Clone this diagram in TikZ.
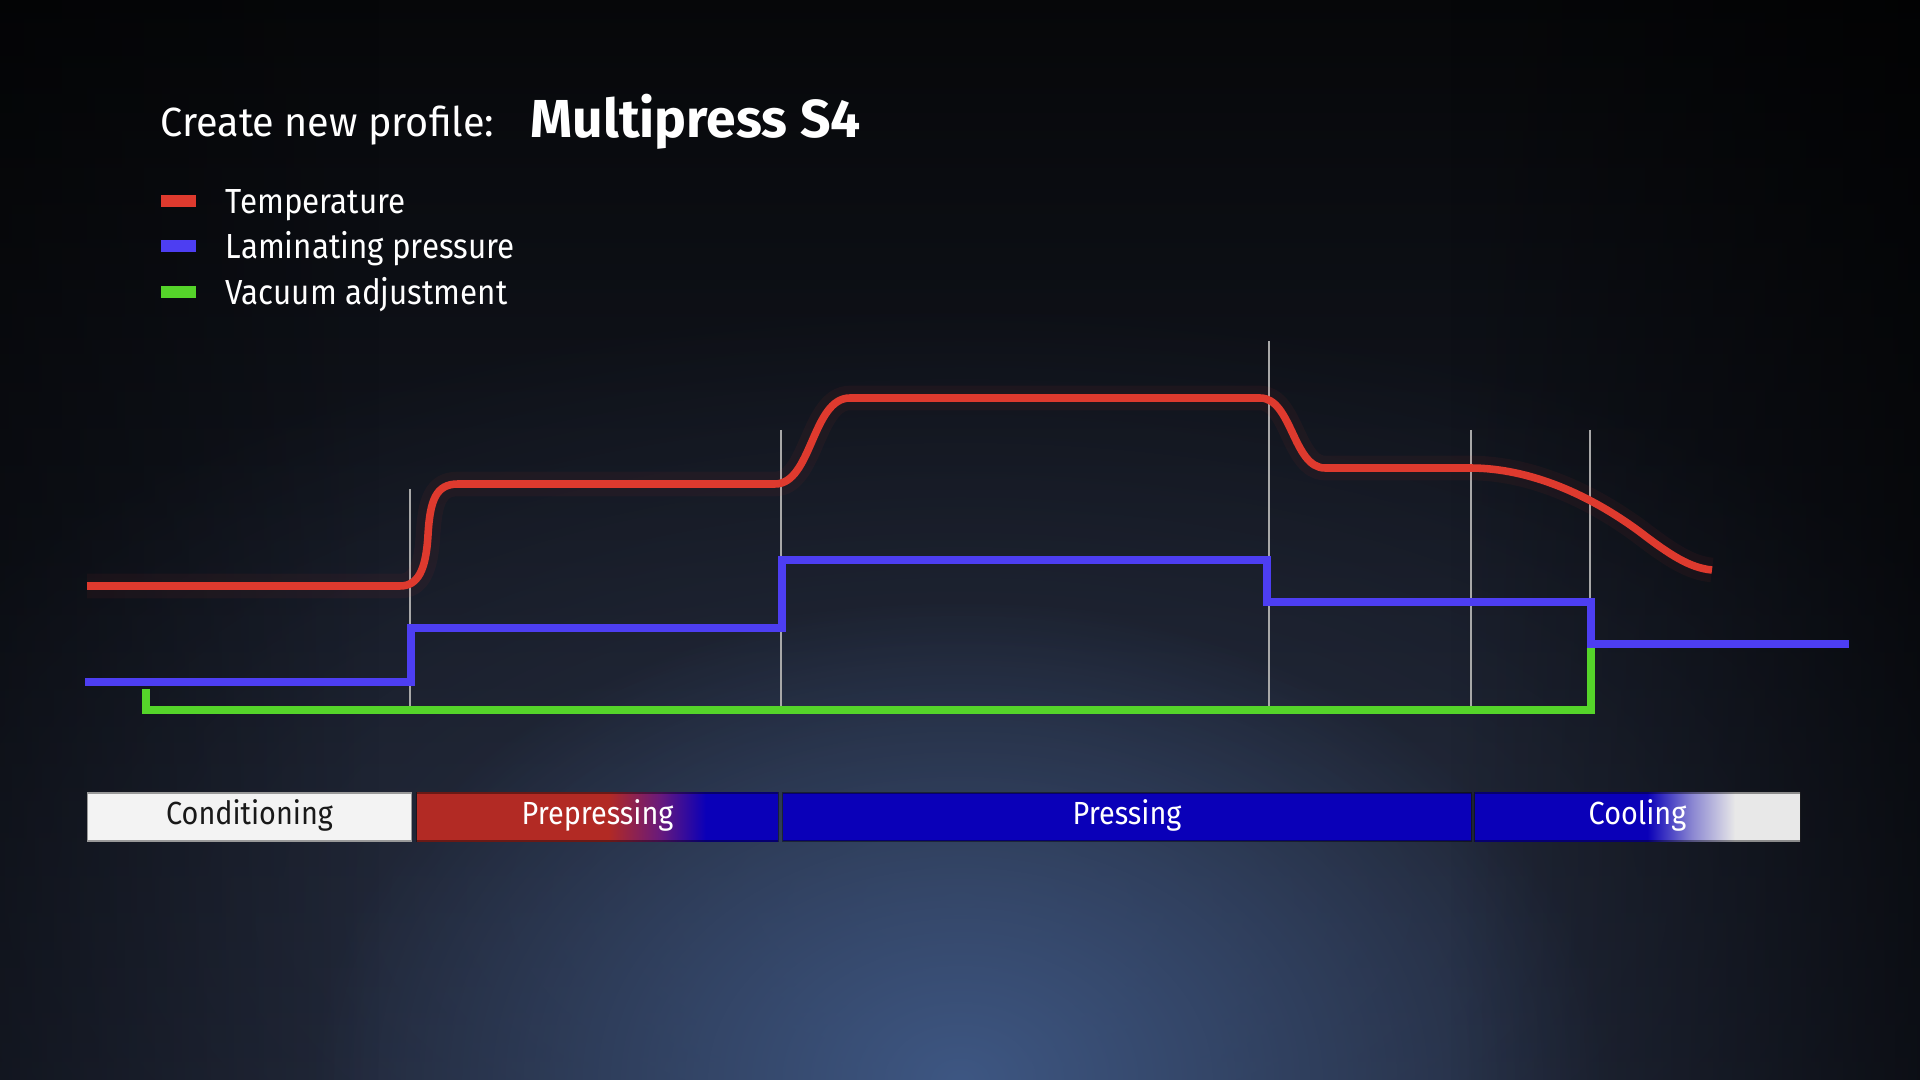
\documentclass[tikz,border=0pt]{standalone}
\usepackage{fontspec}
\setmainfont{Fira Sans}[FakeStretch=0.9]
\newfontfamily\titlefont{Fira Sans}[FakeStretch=0.97]
\newfontfamily\machinefont{Fira Sans}
\usetikzlibrary{fadings}
\definecolor{bgtop}{HTML}{060709}
\definecolor{bgmid}{HTML}{171B26}
\definecolor{bgbot}{HTML}{1E2434}
\definecolor{glowc}{HTML}{3E5783}
\definecolor{glowwide}{HTML}{2A3246}
\definecolor{tred}{HTML}{DE3A2E}
\definecolor{pblue}{HTML}{4D3EF2}
\definecolor{vgreen}{HTML}{55D42A}
\definecolor{gridc}{HTML}{A8A8A8}
\definecolor{barred}{HTML}{B22A24}
\definecolor{barpurple}{HTML}{6A1A7A}
\definecolor{barblue}{HTML}{0A00B8}
\definecolor{barwhite}{HTML}{F3F3F3}
\definecolor{lav}{HTML}{8C88D2}
\definecolor{coolwhite}{HTML}{E8E8E8}
\pgfdeclarehorizontalshading{preshade}{100bp}{color(0bp)=(barred); color(25bp)=(barred); color(51.5bp)=(barred); color(58.5bp)=(barpurple); color(65bp)=(barblue); color(100bp)=(barblue)}
\pgfdeclarehorizontalshading{coolshade}{100bp}{color(0bp)=(barblue); color(25bp)=(barblue); color(51.5bp)=(barblue); color(58.5bp)=(lav); color(65bp)=(coolwhite); color(100bp)=(coolwhite)}
\tikzfading[name=glowfade, inner color=transparent!0, outer color=transparent!100]
\tikzfading[name=eastfade, left color=transparent!100, right color=transparent!0]
\tikzfading[name=westfade, left color=transparent!0, right color=transparent!100]
\tikzset{
  titletext/.style={anchor=base west, inner sep=0pt, text=white, font=\titlefont\fontsize{11.6pt}{14pt}\selectfont},
  titlebold/.style={anchor=base west, inner sep=0pt, text=white, font=\machinefont\fontsize{15.2pt}{18pt}\selectfont\bfseries},
  legsq/.style={inner sep=0pt, minimum width=0.35cm, minimum height=0.12cm},
  legtext/.style={anchor=base west, inner sep=0pt, text=white, font=\fontsize{9.9pt}{12pt}\selectfont},
  bar/.style={inner sep=0pt, minimum height=0.48cm, text height=0.24cm, text depth=0.08cm, font=\fontsize{9.1pt}{11pt}\selectfont, draw=black, draw opacity=0.4, line width=0.3pt},
  curve/.style={line width=2.15pt, line join=miter, line cap=butt},
  gridline/.style={gridc, line width=0.55pt},
}
\begin{document}
\begin{tikzpicture}[x=0.01cm, y=-0.01cm]
\useasboundingbox (0,0) rectangle (1920,1080);
\begin{scope}
\clip (0,0) rectangle (1920,1080);
\fill[top color=bgtop, middle color=bgmid, bottom color=bgbot] (0,0) rectangle (1920,1080);
\fill[glowwide, path fading=glowfade, opacity=0.8] (960,900) ellipse [x radius=12cm, y radius=6cm];
\fill[glowc, path fading=glowfade] (960,1080) ellipse [x radius=6.5cm, y radius=4.8cm];
\fill[black, path fading=eastfade, opacity=0.6] (1450,0) rectangle (1920,1080);
\fill[black, path fading=westfade, opacity=0.4] (0,0) rectangle (380,1080);
\end{scope}

% title
\node[titletext] (title) at (160,137) {Create new profile:};
\node[titlebold] (machine) at (530,138) {Multipress S4};

% legend
\node[legsq, fill=tred] (sqT) at (178.5,201) {};
\node[legsq, fill=pblue] (sqP) at (178.5,246) {};
\node[legsq, fill=vgreen] (sqV) at (178.5,292.5) {};
\node[legtext] (lT) at (225,214) {Temperature};
\node[legtext] (lP) at (225,259) {Laminating pressure};
\node[legtext] (lV) at (225,305) {Vacuum adjustment};

% grid lines
\draw[gridline] (410,489) -- (410,706);
\draw[gridline] (781,430) -- (781,706);
\draw[gridline] (1269,341) -- (1269,706);
\draw[gridline] (1471,430) -- (1471,706);
\draw[gridline] (1590,430) -- (1590,706);

% soft glow under the temperature curve
\draw[tred, line width=7pt, opacity=0.06] (87,586) -- (400,586) .. controls (418,586) and (426,570) .. (428,535) .. controls (430,500) and (436,484) .. (458,484) -- (775,484) .. controls (812,484) and (812,398) .. (850,398) -- (1260,398) .. controls (1292,398) and (1293,468) .. (1325,468) -- (1470,468) .. controls (1530,468) and (1590,495) .. (1640,532) .. controls (1670,555) and (1690,568) .. (1712,570);

% vacuum
\draw[curve, vgreen] (146,689) -- (146,710) -- (1591,710) -- (1591,648);
% pressure
\draw[curve, pblue] (85,682) -- (411,682) -- (411,628) -- (782,628) -- (782,560) -- (1267,560) -- (1267,602) -- (1591,602) -- (1591,644) -- (1849,644);
% temperature
\draw[curve, tred] (87,586) -- (400,586) .. controls (418,586) and (426,570) .. (428,535) .. controls (430,500) and (436,484) .. (458,484) -- (775,484) .. controls (812,484) and (812,398) .. (850,398) -- (1260,398) .. controls (1292,398) and (1293,468) .. (1325,468) -- (1470,468) .. controls (1530,468) and (1590,495) .. (1640,532) .. controls (1670,555) and (1690,568) .. (1712,570);

% phase bars
\node[bar, fill=barwhite, draw=black!40, draw opacity=1, text=black!90, minimum width=3.23cm] (cond) at (249.5,817) {Conditioning};
\node[bar, shading=preshade, text=white, minimum width=3.61cm] (prep) at (597.5,817) {Prepressing};
\node[bar, fill=barblue, text=white, minimum width=6.88cm] (press) at (1127,817) {Pressing};
\node[bar, shading=coolshade, text=white, minimum width=3.25cm] (cool) at (1637.5,817) {Cooling};
\end{tikzpicture}
\end{document}
